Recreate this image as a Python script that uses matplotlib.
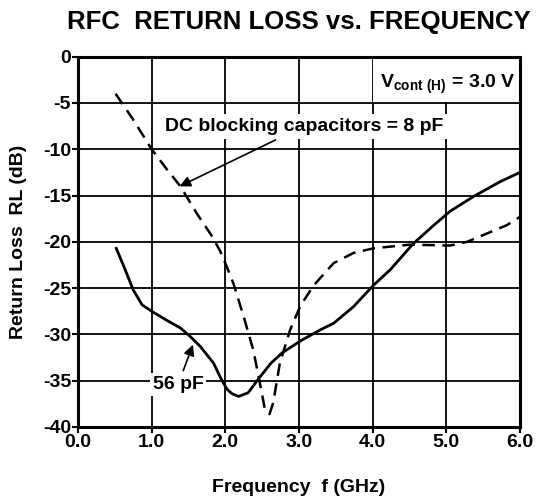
import numpy as np
import matplotlib
matplotlib.use("Agg")
import matplotlib.pyplot as plt
from matplotlib.patches import Rectangle

plt.rcParams['font.family'] = ['Liberation Sans', 'DejaVu Sans']
plt.rcParams['axes.unicode_minus'] = False

# 56 pF curve (solid)
freq_56 = [0.52, 0.64, 0.75, 0.87, 1.0, 1.21, 1.39, 1.52, 1.66, 1.84, 1.93, 2.02, 2.09,
           2.18, 2.31, 2.47, 2.62, 2.77, 3.02, 3.29, 3.47, 3.74, 4.01, 4.24, 4.55, 4.83,
           5.05, 5.37, 5.73, 6.0]
rl_56 = [-20.7, -23.0, -25.2, -26.8, -27.5, -28.5, -29.3, -30.2, -31.3, -33.1, -34.6, -35.9,
         -36.4, -36.7, -36.3, -34.6, -33.1, -32.0, -30.7, -29.5, -28.8, -27.0, -24.7, -23.0,
         -20.2, -18.2, -16.7, -15.1, -13.5, -12.5]

# 8 pF DC blocking capacitors curve (dashed)
freq_8 = [0.51, 0.75, 1.0, 1.21, 1.39, 1.61, 1.82, 1.93, 2.02, 2.11, 2.25, 2.38, 2.47, 2.54,
          2.60, 2.65, 2.74, 2.88, 3.02, 3.20, 3.47, 3.74, 4.01, 4.51, 5.05, 5.28, 5.55, 5.82,
          6.0]
rl_8 = [-4.0, -6.8, -10.0, -12.2, -14.0, -16.9, -19.4, -21.0, -22.7, -24.5, -28.1, -31.7,
        -35.3, -38.2, -38.6, -37.4, -33.1, -29.5, -26.9, -24.7, -22.3, -21.2, -20.7, -20.3,
        -20.4, -20.0, -19.1, -18.2, -17.3]

x_ticks = [0, 1, 2, 3, 4, 5, 6]
x_labels = ["0.0", "1.0", "2.0", "3.0", "4.0", "5.0", "6.0"]
y_ticks = [0, -5, -10, -15, -20, -25, -30, -35, -40]

fig = plt.figure(figsize=(5.4, 5.04), dpi=100)
ax = fig.add_axes([0.1444, 0.1528, 0.8186, 0.7347])

ax.set_xlim(0, 6)
ax.set_ylim(-40, 0)
ax.set_xticks(x_ticks)
ax.set_xticklabels(x_labels)
ax.set_yticks(y_ticks)
ax.set_yticklabels([str(v) for v in y_ticks])
ax.grid(True, color='black', linewidth=1.3)
ax.set_axisbelow(True)
for s in ax.spines.values():
    s.set_linewidth(2.2)
ax.tick_params(axis='both', labelsize=14, width=1.5, length=4, pad=1)
for lab in ax.get_xticklabels() + ax.get_yticklabels():
    lab.set_fontweight('bold')

ax.plot(freq_56, rl_56, color='black', linewidth=2.0, solid_joinstyle='round', zorder=3)
ax.plot(freq_8, rl_8, color='black', linewidth=1.8, dashes=(5, 3), zorder=3)

# white box behind the condition label (hides grid there)
ax.add_patch(Rectangle((4.0, -4.9), 2.0, 4.9, facecolor='white', edgecolor='none', zorder=1))
ax.text(5.02, -3.0, r"V$_{\mathregular{cont\ (H)}}$ = 3.0 V", ha='center', va='center',
        fontsize=14, fontweight='bold', zorder=4)

ax.annotate("DC blocking capacitors = 8 pF", xy=(1.38, -14.0), xytext=(3.07, -7.5),
            ha='center', va='center', fontsize=14, fontweight='bold', zorder=4,
            bbox=dict(facecolor='white', edgecolor='none', pad=3),
            arrowprops=dict(arrowstyle='-|>', color='black', lw=1.2,
                            mutation_scale=16, shrinkA=2, shrinkB=0))

ax.annotate("56 pF", xy=(1.56, -31.1), xytext=(1.36, -35.4),
            ha='center', va='center', fontsize=14, fontweight='bold', zorder=4,
            bbox=dict(facecolor='white', edgecolor='none', pad=2),
            arrowprops=dict(arrowstyle='-|>', color='black', lw=1.2,
                            mutation_scale=16, shrinkA=2, shrinkB=0))

fig.text(0.553, 0.957, "RFC  RETURN LOSS vs. FREQUENCY", ha='center', va='center',
         fontsize=18.5, fontweight='bold')
fig.text(0.553, 0.032, "Frequency  f (GHz)", ha='center', va='center',
         fontsize=14, fontweight='bold')
fig.text(0.035, 0.52, "Return Loss  RL (dB)", ha='center', va='center', rotation=90,
         fontsize=14, fontweight='bold')

fig.savefig("out.png", dpi=100)
